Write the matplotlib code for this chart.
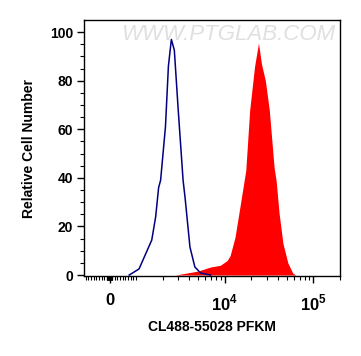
import matplotlib
matplotlib.use("Agg")
import matplotlib.pyplot as plt
import numpy as np

plt.rcParams['font.family'] = ['Liberation Sans', 'DejaVu Sans']
plt.rcParams['font.weight'] = 'bold'
plt.rcParams['mathtext.fontset'] = 'custom'
plt.rcParams['mathtext.rm'] = 'Liberation Sans:bold'
plt.rcParams['mathtext.bf'] = 'Liberation Sans:bold'

# control (blue outline)
ctrl_x = [741, 1079, 1502, 1663, 1795, 1890, 2144, 2315, 2500, 2700, 2987, 3390, 3566, 4053, 4605, 5360, 6918]
ctrl_y = [0, 2.5, 14.4, 24, 36, 39, 61, 86, 97, 92.6, 68, 39, 32, 11.5, 3.3, 0.8, 0]

# PFKM stained (red fill)
pfkm_x = [2767, 4966, 6918, 8920, 10660, 11510, 13070, 14840, 16420, 17280, 19140, 21740, 24060,
          25960, 28760, 31830, 36140, 38020, 41050, 45420, 51580, 58580, 63240]
pfkm_y = [0, 1.6, 3.3, 4, 6, 8, 15.6, 28, 38, 43, 68, 86, 95.5,
          87, 80, 68, 44, 39, 25.5, 13, 5, 0.8, 0]

xticks = [0, 1e4, 1e5]
xticklabels = ['0', r'$10^4$', r'$10^5$']
yticks = [0, 20, 40, 60, 80, 100]

fig = plt.figure(figsize=(3.61, 3.56), dpi=100)
ax = fig.add_axes([84/361, 1-276/356, 256/361, 256/356])

ax.set_xscale('symlog', linthresh=1000, linscale=0.27)
ax.fill_between(pfkm_x, pfkm_y, 0, color='#ff0000', lw=0)
ax.plot(ctrl_x, ctrl_y, color='#000080', lw=1.1)

ax.set_xlim(-960, 175000)
ax.set_ylim(-0.4, 105)

minor = list(np.arange(-900, 0, 100)) + list(np.arange(-90, 0, 10)) + list(np.arange(10, 100, 10)) \
    + list(np.arange(100, 1000, 100)) + [1000] + list(np.arange(2000, 10000, 1000)) \
    + list(np.arange(20000, 100000, 10000)) + [2e5]
ax.set_xticks(minor, minor=True)
ax.set_xticks(xticks)
ax.set_xticklabels(xticklabels, fontsize=12, fontweight='bold')
ax.set_yticks(yticks)
ax.set_yticks(np.arange(0, 105, 5), minor=True)
ax.set_yticklabels([str(v) for v in yticks], fontsize=10, fontweight='bold')

ax.tick_params(axis='both', which='major', length=5, width=1, pad=3)
ax.tick_params(axis='both', which='minor', length=3, width=0.8)
ax.tick_params(axis='x', which='major', pad=7)
for s in ax.spines.values():
    s.set_linewidth(1)

ax.set_ylabel('Relative Cell Number', fontsize=10, fontweight='bold', labelpad=10)
ax.set_xlabel('CL488-55028 PFKM', fontsize=10, fontweight='bold', labelpad=5)

ax.text(0.5625, 0.945, 'WWW.PTGLAB.COM', transform=ax.transAxes, ha='center', va='center',
        fontsize=16, color='#e0e0e0', fontweight='normal', style='italic')

fig.savefig('out.png', dpi=100)
